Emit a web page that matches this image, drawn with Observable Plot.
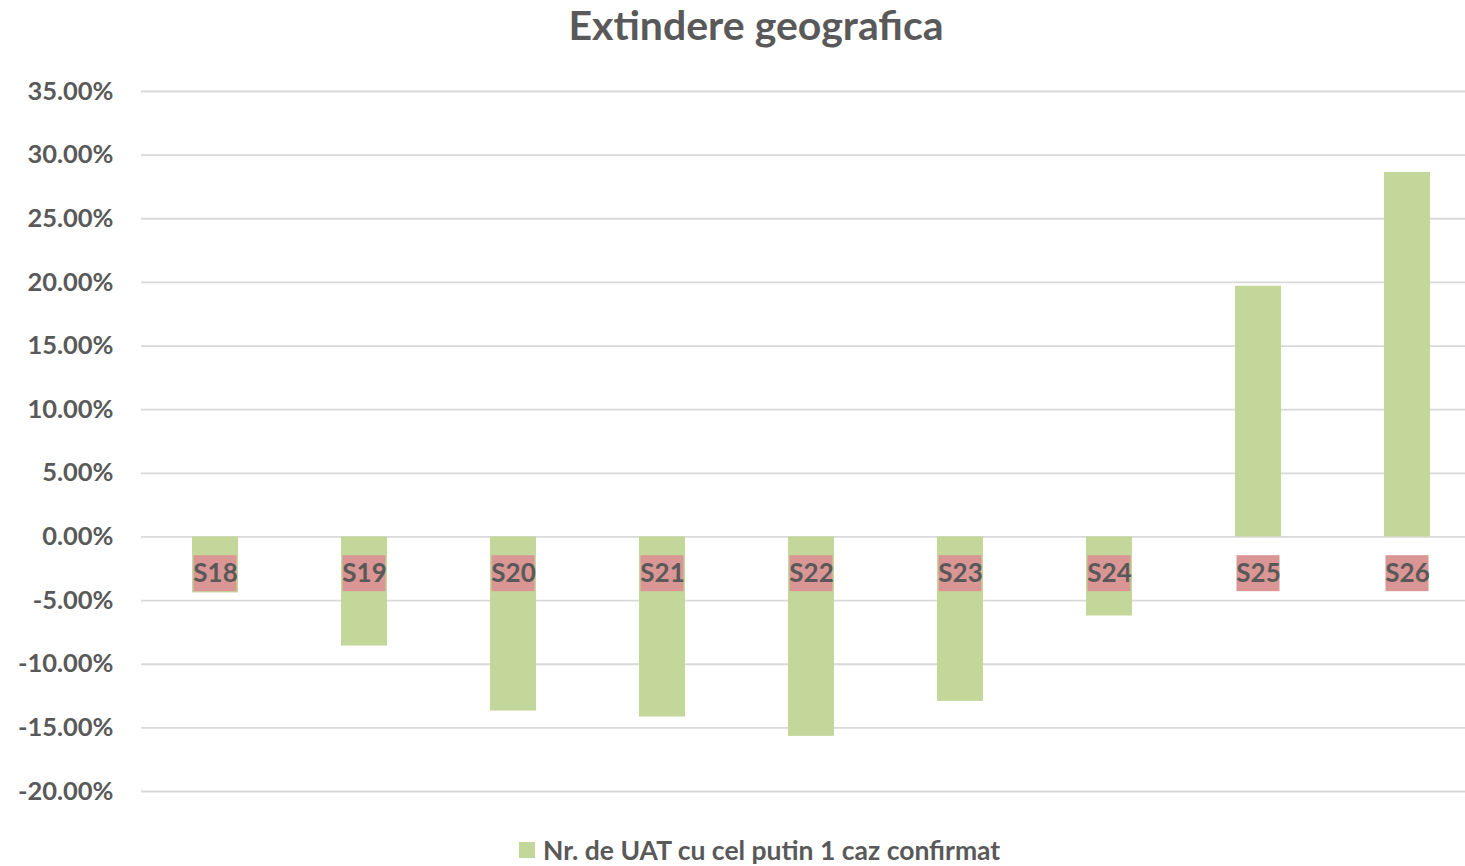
<!DOCTYPE html>
<html>
<head>
<meta charset="utf-8">
<script src="https://cdn.jsdelivr.net/npm/d3@7"></script>
<script src="https://cdn.jsdelivr.net/npm/@observablehq/plot@0.6"></script>
<style>
  html, body { margin: 0; padding: 0; background: #fff; overflow: hidden; width: 1465px; height: 866px; }
  body { position: relative; font-family: Lato, "Open Sans", sans-serif; color: #595959; }
  #title { position: absolute; top: 0; left: 756px; transform: translateX(-50%); height: 50px; line-height: 50px; font-size: 41px; font-weight: bold; white-space: nowrap; }
  #chart { position: absolute; top: 50px; left: 0; }
  #chart svg { max-width: none !important; }
  #legend { position: absolute; top: 835px; left: 519px; display: flex; align-items: center; font-size: 26.5px; font-weight: bold; white-space: nowrap; height: 30px; line-height: 30px; }
  #legend .sw { width: 16px; height: 16px; background: #C4D79B; margin-right: 8px; }
</style>
</head>
<body>
<div id="title">Extindere geografica</div>
<div id="chart"></div>
<div id="legend"><span class="sw"></span><span>Nr. de UAT cu cel putin 1 caz confirmat</span></div>
<script>
const weeks = ["S18", "S19", "S20", "S21", "S22", "S23", "S24", "S25", "S26"];
const values = [-4.40, -8.57, -13.68, -14.15, -15.67, -12.92, -6.21, 19.70, 28.64];
const yTicks = [-20, -15, -10, -5, 0, 5, 10, 15, 20, 25, 30, 35];
const seriesName = "Nr. de UAT cu cel putin 1 caz confirmat";

const data = weeks.map((w, i) => ({week: w, value: values[i]}));

const labelCenter = -2.89, labelTop = -1.47, labelBottom = -4.30;

const chart = Plot.plot({
  width: 1482,
  height: 770,
  marginLeft: 141,
  marginRight: 0,
  marginTop: 41,
  marginBottom: 29,
  style: {fontFamily: "Lato, 'Open Sans', sans-serif", fontWeight: "bold", fontSize: "25px", color: "#595959", background: "transparent", maxWidth: "none"},
  x: {domain: weeks, paddingInner: 0.691, paddingOuter: 0.3455, axis: null},
  y: {domain: [-20, 35], axis: null},
  marks: [
    Plot.ruleY(yTicks, {stroke: "#d9d9d9", strokeWidth: 1.8}),
    Plot.barY(data, {x: "week", y: "value", fill: "#C4D79B"}),
    Plot.barY(weeks, {x: d => d, y1: labelTop, y2: labelBottom, fill: "#DA9694", insetLeft: 1.5, insetRight: 1.5}),
    Plot.text(weeks, {x: d => d, y: labelCenter, text: d => d, fontSize: 26, fontWeight: "bold", fill: "#595959"}),
    Plot.axisY({ticks: yTicks, label: null, tickFormat: d => d.toFixed(2) + "%", tickSize: 0, tickPadding: 28, fontSize: 25.5, fontWeight: "bold", fill: "#595959"})
  ]
});
document.getElementById("chart").appendChild(chart);
</script>
</body>
</html>
